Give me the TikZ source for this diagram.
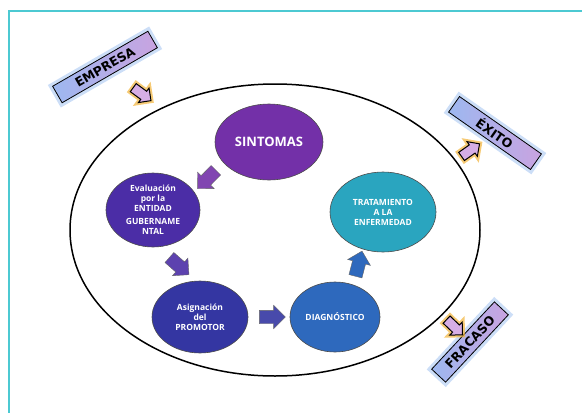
\documentclass[tikz,border=0pt]{standalone}
\usepackage{fontspec}
\setmainfont{Open Sans}
\newfontfamily\tagfont{DejaVu Sans}
\usetikzlibrary{shapes.geometric,shapes.arrows,calc}
\definecolor{sintcolor}{HTML}{7330A8}
\definecolor{evalcolor}{HTML}{4B2DA6}
\definecolor{asigcolor}{HTML}{3436A2}
\definecolor{diagcolor}{HTML}{2E69BD}
\definecolor{tratcolor}{HTML}{2AA5BF}
\definecolor{frameteal}{HTML}{4CC9D2}
\definecolor{tagblue}{HTML}{9DB8F0}
\definecolor{taglilac}{HTML}{C9A3E0}
\definecolor{glowblue}{HTML}{8FB6EE}
\definecolor{arrowlilac}{HTML}{D6AEE6}
\definecolor{gloworange}{HTML}{F2B43A}

\begin{document}
\begin{tikzpicture}[x=1pt,y=-1pt,
  etapa/.style={ellipse,draw=black!70,line width=0.6pt,text=white,
                font=\fontsize{8.5}{10}\selectfont\bfseries,
                align=center,inner sep=0pt,outer sep=0pt},
  flecha/.style={single arrow,draw=black!60,line width=0.4pt,
                 minimum height=26pt,inner xsep=0pt,inner ysep=6.5pt,
                 single arrow head extend=5pt,single arrow head indent=0pt,
                 sloped,allow upside down},
  salida/.style={single arrow,fill=arrowlilac,draw=black,line width=1pt,
                 minimum height=22pt,inner xsep=0pt,inner ysep=4.5pt,
                 single arrow head extend=4pt,sloped,allow upside down,
                 preaction={draw=gloworange,line width=5pt,opacity=0.7}},
  rotulo/.style={rectangle,draw=black,line width=0.8pt,
                 left color=tagblue,right color=taglilac,
                 minimum height=19pt,inner sep=0pt,
                 font=\tagfont\fontsize{12.5}{12.5}\selectfont\bfseries,
                 preaction={draw=glowblue,line width=7pt,opacity=0.45}},
  marco/.style={draw=frameteal,line width=2pt}
]
  \useasboundingbox (0,0) rectangle (582,413);

  % ---- Frame and outer ring -----------------------------------
  \draw[marco] (9,413) |- (582,11);
  \node[ellipse,draw,line width=1.5pt,minimum width=410pt,minimum height=292pt,
        inner sep=0pt,outer sep=0pt] (ring) at (275,230) {};

  % ---- Stages of the cycle -------------------------------------
  \node[etapa,fill=sintcolor,minimum width=108pt,minimum height=76pt,
        font=\fontsize{13}{13}\selectfont\bfseries] (sint) at (269,142) {SINTOMAS};
  \node[etapa,fill=evalcolor,minimum width=94pt,minimum height=74pt]  (eval) at (153,210)
    {Evaluación\\por la\\ENTIDAD\\[3pt]GUBERNAME\\NTAL};
  \node[etapa,fill=asigcolor,minimum width=96pt,minimum height=72pt]  (asig) at (200,317)
    {Asignación\\del\\PROMOTOR};
  \node[etapa,fill=diagcolor,minimum width=90pt,minimum height=70pt]  (diag) at (335,317)
    {DIAGNÓSTICO};
  \node[etapa,fill=tratcolor,minimum width=106pt,minimum height=80pt] (trat) at (383,212)
    {TRATAMIENTO\\A LA\\ENFERMEDAD};

  % Block arrows between stages
  \path (sint) -- node[flecha,fill=sintcolor!90!white,rotate=15]{} (eval);
  \path (eval) -- node[flecha,fill=evalcolor!90!white,rotate=25]{} (asig);
  \path (asig) -- node[flecha,fill=asigcolor!90!white]{} (diag);
  \path (diag) -- node[flecha,fill=diagcolor,rotate=10]{} (trat);

  % ---- Entry and exits -----------------------------------------
  \node[rotulo,rotate=30,minimum width=110pt]  (empresa) at (105,67)  {EMPRESA};
  \node[rotulo,rotate=-35,minimum width=100pt] (exito)   at (495,133) {ÉXITO};
  \node[rotulo,rotate=47,minimum width=92pt]   (fracaso) at (470,342) {FRACASO};

  \path (empresa.center) -- node[salida,pos=0.62]{} (ring.133);
  \path (ring.21)  -- node[salida,pos=0.33]{} (exito.center);
  \path (ring.333) -- node[salida,pos=0.39]{} (fracaso.center);

\end{tikzpicture}
\end{document}
